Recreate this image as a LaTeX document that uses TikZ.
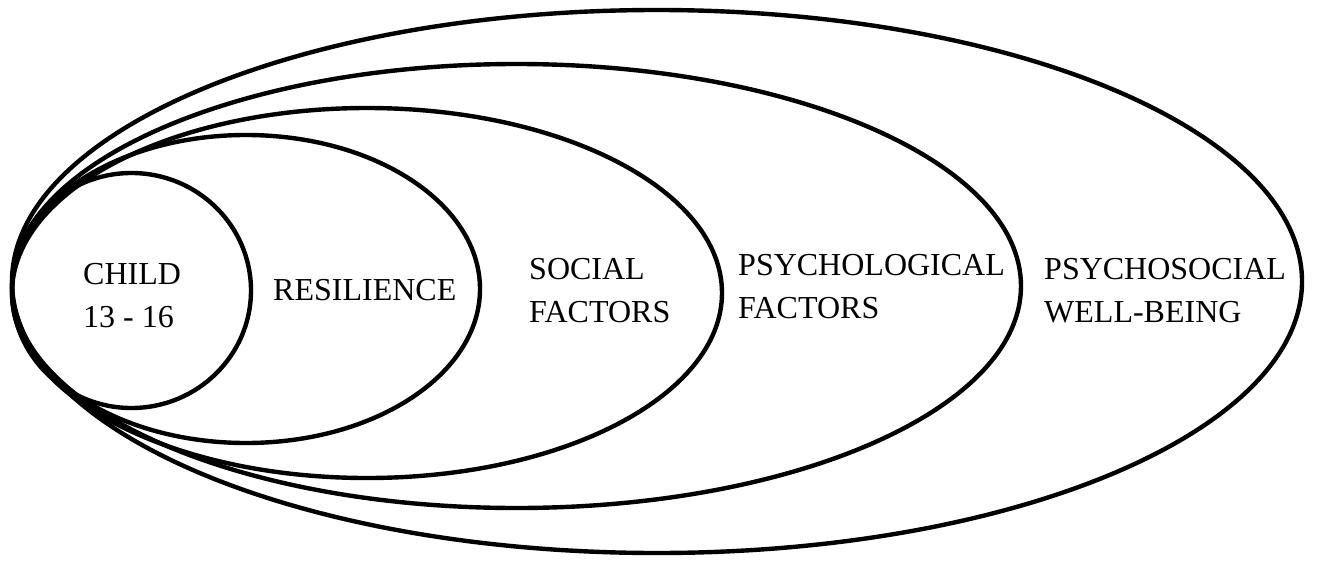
\documentclass[tikz,border=0pt]{standalone}
\usepackage{fontspec}
\setmainfont{Liberation Serif}
\begin{document}
\begin{tikzpicture}[x=1pt,y=-1pt,
  ring/.style={draw=black,line width=4.4pt},
  lbl/.style={anchor=base west,inner sep=0pt,align=left,font=\fontsize{32}{43}\selectfont}]
\useasboundingbox (0,0) rectangle (1319,562);
% ellipses, outermost first
\draw[ring] (657,281.5) ellipse [x radius=645,y radius=271.5];
\draw[ring] (516.5,286) ellipse [x radius=504.5,y radius=222];
\draw[ring] (367,293) ellipse [x radius=355,y radius=185];
\draw[ring] (246,289) ellipse [x radius=234,y radius=154];
\draw[ring] (131.5,290.5) ellipse [x radius=119.5,y radius=117.5];
% labels (base anchor = baseline of last line)
\node[lbl] (child) at (83,327) {CHILD\\13 - 16};
\node[lbl] (res) at (273,300) {RESILIENCE};
\node[lbl] (soc) at (529,322) {SOCIAL\\FACTORS};
\node[lbl] (psy) at (738,318) {PSYCHOLOGICAL\\FACTORS};
\node[lbl] (wb) at (1044,322) {PSYCHOSOCIAL\\WELL-BEING};
\end{tikzpicture}
\end{document}
